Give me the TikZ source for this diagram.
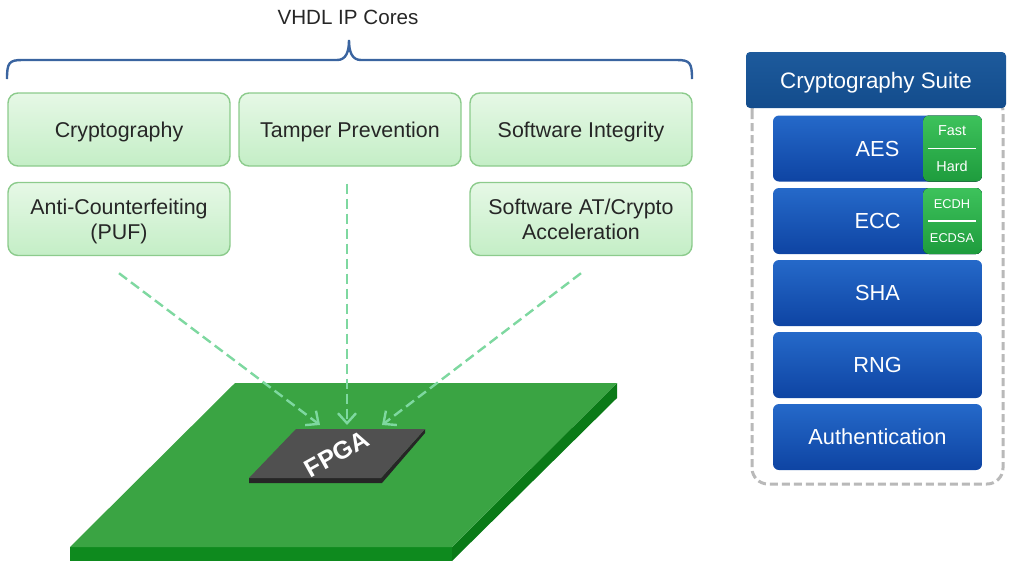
\documentclass[tikz,border=0pt]{standalone}
\usepackage{fontspec}
\setmainfont{Liberation Sans}
\usepackage{xcolor}
\usetikzlibrary{arrows.meta}

\definecolor{coreedge}{HTML}{8CCB8C}
\definecolor{corelite}{HTML}{E6F8E6}
\definecolor{coredark}{HTML}{C4EEC6}
\definecolor{bracecol}{HTML}{3A64A0}
\definecolor{flowcol}{HTML}{7ED8A0}
\definecolor{boardtop}{HTML}{3AA443}
\definecolor{boardfront}{HTML}{0E8A1E}
\definecolor{boardside}{HTML}{0A7A17}
\definecolor{chiptop}{HTML}{505050}
\definecolor{chipside}{HTML}{262626}
\definecolor{suitehead}{HTML}{134C8C}
\definecolor{suiteheadtop}{HTML}{1D5A9C}
\definecolor{algotop}{HTML}{2569C9}
\definecolor{algobot}{HTML}{0E44A3}
\definecolor{modetop}{HTML}{3DC25B}
\definecolor{modebot}{HTML}{1E9C3D}

\begin{document}
\begin{tikzpicture}[
    x=0.5pt, y=-0.5pt,
    font=\fontsize{10.7}{12.6}\selectfont,
    ipcore/.style={rectangle, rounded corners=5pt, draw=coreedge, line width=0.7pt,
                   top color=corelite, bottom color=coredark, text=black!85,
                   minimum width=111pt, minimum height=36.5pt, align=center, text depth=0pt},
    algo/.style={rectangle, rounded corners=3pt, top color=algotop, bottom color=algobot,
                 text=white, minimum width=104.5pt, minimum height=33pt, align=center,
                 text depth=0pt, font=\fontsize{10.9}{12}\selectfont},
    split/.style={path picture={\fill[top color=modetop, bottom color=modebot]
                  ([xshift=-29.5pt]path picture bounding box.north east)
                  rectangle (path picture bounding box.south east);}},
    mode/.style={font=\fontsize{7.2}{8}\selectfont, text=white, inner sep=0pt},
    flow/.style={-{Straight Barb[length=5pt, width=9pt]}, flowcol, line width=1.2pt,
                 dash pattern=on 5pt off 2.5pt}
  ]
    \useasboundingbox (0,0) rectangle (1011,563);

    %% ── Title and brace over the cores
    \node[font=\fontsize{10.3}{12}\selectfont, text=black!85] (title) at (348,17) {VHDL IP Cores};
    \draw[bracecol, line width=1.2pt]
      (7,79) .. controls (7,63) and (9,60) .. (22,60) -- (337,60)
      .. controls (346,60) and (349,52) .. (349,40)
      .. controls (349,52) and (352,60) .. (361,60) -- (677,60)
      .. controls (690,60) and (692,63) .. (692,79);

    %% ── Row 1: IP cores
    \node[ipcore] (crypto) at (119,129.5) {Cryptography};
    \node[ipcore] (tamper) at (350,129.5) {Tamper Prevention};
    \node[ipcore] (swint)  at (581,129.5) {Software Integrity};

    %% ── Row 2
    \node[ipcore] (puf)  at (119,219) {Anti-Counterfeiting\\(PUF)};
    \node[ipcore] (swat) at (581,219) {Software AT/Crypto\\Acceleration};

    %% ── Board
    \fill[boardfront] (70,547) -- (452,547) -- (452,561) -- (70,561) -- cycle;
    \fill[boardside] (617,383) -- (617,398) -- (452,561) -- (452,547) -- cycle;
    \fill[boardtop] (235,383) -- (617,383) -- (452,547) -- (70,547) -- cycle;

    %% ── FPGA chip
    \fill[chipside] (249,478) -- (381,478) -- (425,429) -- (425,433) -- (382,483) -- (249,483) -- cycle;
    \fill[chiptop] (296,429) -- (425,429) -- (381,478) -- (249,478) -- cycle;
    \node[text=white, font=\fontsize{12.5}{14}\bfseries, rotate=29, inner sep=0pt] (fpga) at (337,454) {FPGA};

    \coordinate (in1) at (320,425);
    \coordinate (in2) at (347,425);
    \coordinate (in3) at (382,425);

    %% Arrows: cores -> chip
    \draw[flow] ([yshift=-8.5pt]puf.south)    -- (in1);
    \draw[flow] ([xshift=-1.5pt, yshift=-8.5pt]tamper.south) -- (in2);
    \draw[flow] ([yshift=-8.5pt]swat.south)   -- (in3);

    %% ── Cryptography suite
    \draw[gray!55, line width=1.5pt, dash pattern=on 4pt off 2pt, rounded corners=8pt]
      (752,95) rectangle (1003,484);
    \node[rectangle, rounded corners=2pt, top color=suiteheadtop, bottom color=suitehead,
          text=white, minimum width=130pt, minimum height=28pt, text depth=0pt,
          font=\fontsize{11.2}{13}\selectfont] (suite) at (876,80) {Cryptography Suite};

    \node[algo, split] (aes)  at (877.5,148.5) {AES};
    \node[algo, split] (ecc)  at (877.5,221)   {ECC};
    \node[algo]        (sha)  at (877.5,293)   {SHA};
    \node[algo]        (rng)  at (877.5,365)   {RNG};
    \node[algo]        (auth) at (877.5,437)   {Authentication};

    %% AES / ECC modes
    \draw[white, line width=0.6pt] (928,148.5) -- (976,148.5);
    \node[mode] (fast) at (952,131) {Fast};
    \node[mode] (hard) at (952,166) {Hard};
    \draw[white, line width=0.6pt] (928,221) -- (976,221);
    \node[mode, font=\fontsize{6.4}{7}\selectfont] (ecdh)  at (952,204) {ECDH};
    \node[mode, font=\fontsize{6.4}{7}\selectfont] (ecdsa) at (952,238) {ECDSA};

  \end{tikzpicture}
\end{document}
